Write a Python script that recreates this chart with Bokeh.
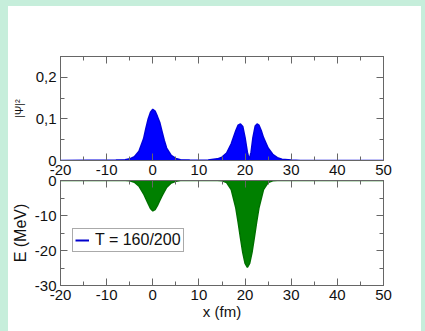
from bokeh.plotting import figure
from bokeh.layouts import column
from bokeh.models import (Range1d, FixedTicker, LinearAxis, ColumnDataSource,
                          Legend, LegendItem, CustomLabelingPolicy)
from bokeh.embed import file_html
from bokeh.resources import INLINE

# ---- data ----
psi_x = [-20, -8, -6, -5, -4, -3, -2, -1.5, -1, -0.5, 0, 0.5, 1, 1.5, 2, 2.5, 3, 4, 5, 6, 8,
         10, 12, 14, 15, 16, 17, 18, 18.5, 19, 19.5, 20, 20.5, 20.9, 21.3, 21.7, 22.2,
         22.6, 23, 23.5, 24, 25, 26, 27, 28, 30, 32, 50]
psi2 = [0, 0.001, 0.002, 0.004, 0.009, 0.022, 0.052, 0.077, 0.100, 0.116, 0.123, 0.119,
        0.106, 0.092, 0.070, 0.048, 0.030, 0.012, 0.005, 0.002, 0.001,
        0.0005, 0.001, 0.004, 0.008, 0.018, 0.040, 0.072, 0.085, 0.088, 0.082, 0.055,
        0.020, 0.002, 0.020, 0.055, 0.083, 0.088, 0.085, 0.072, 0.055, 0.030, 0.015,
        0.007, 0.003, 0.001, 0.0, 0.0]

V_x = [-20, -6, -5, -4, -3, -2, -1.5, -1, -0.5, 0, 0.5, 1, 1.5, 2, 3, 4, 5, 6,
       14, 15, 16, 17, 18, 18.5, 19, 19.5, 20, 20.5, 21, 21.5, 22, 22.5, 23, 24,
       25, 26, 27, 50]
V = [0, 0, -0.1, -0.5, -1.6, -3.8, -5.2, -6.6, -8.0, -8.7, -8.3, -7.2, -5.8, -4.4,
     -2.0, -0.7, -0.2, 0, 0, -0.1, -0.6, -2.6, -7.9, -12.0, -16.4, -20.6, -23.7,
     -24.8, -23.7, -20.6, -16.4, -12.0, -7.9, -2.6, -0.6, -0.1, 0, 0]

x_ticks = [-20, -10, 0, 10, 20, 30, 40, 50]
x_tick_labels = ["-20", "-10", "0", "10", "20", "30", "40", "50"]
x_minor = [-15, -5, 5, 15, 25, 35, 45]
psi_ticks = [0, 0.1, 0.2]
psi_tick_labels = ["0", "0,1", "0,2"]
psi_minor = [0.05, 0.15, 0.25]
E_ticks = [-30, -20, -10, 0]
E_tick_labels = ["-30", "-20", "-10", "0"]
E_minor = [-25, -15, -5]
legend_label = "T = 160/200"

FONT = "Liberation Sans"
AX = "#666666"
MINT = "#c6eedb"
TICK_FS = "15px"


def style_axis(ax, show_labels):
    ax.major_tick_in = 7
    ax.major_tick_out = 0
    ax.minor_tick_in = 4
    ax.minor_tick_out = 0
    ax.axis_line_color = AX
    ax.major_tick_line_color = AX
    ax.minor_tick_line_color = AX
    ax.major_label_text_font = FONT
    ax.axis_label_text_font = FONT
    ax.axis_label_text_font_style = "normal"
    ax.axis_label_text_color = "#111111"
    ax.major_label_text_color = "#111111"
    if show_labels:
        ax.major_label_text_font_size = TICK_FS
    else:
        ax.major_label_text_font_size = "0px"
        ax.major_label_standoff = 0
        ax.major_label_policy = CustomLabelingPolicy(code="return []")


def make_fig(h, top, bottom):
    p = figure(width=413, height=h, output_backend="svg", toolbar_location=None,
               x_axis_location=None, y_axis_location=None,
               min_border_left=49, min_border_right=38,
               min_border_top=top, min_border_bottom=bottom)
    p.x_range = Range1d(-20, 50)
    p.xgrid.visible = False
    p.ygrid.visible = False
    p.outline_line_color = AX
    p.background_fill_color = "white"
    p.border_fill_color = None
    return p


xt = FixedTicker(ticks=x_ticks, minor_ticks=x_minor)
x_over = dict(zip(x_ticks, x_tick_labels))

# ---- upper panel ----
p1 = make_fig(178, 50, 24)
p1.y_range = Range1d(0, 0.25)
p1.varea(x=psi_x, y1=0, y2=psi2, fill_color="#0000ff")
p1.line(x=psi_x, y=psi2, line_color="#0000dd", line_width=1.5)

yt1 = FixedTicker(ticks=psi_ticks, minor_ticks=psi_minor)
l1 = LinearAxis(ticker=yt1, axis_label="|Ψ|²")
style_axis(l1, True)
l1.major_label_overrides = dict(zip(psi_ticks, psi_tick_labels))
l1.major_label_standoff = 4
l1.axis_label_text_font_size = "11px"
l1.axis_label_standoff = 8
p1.add_layout(l1, "left")
r1 = LinearAxis(ticker=yt1)
style_axis(r1, False)
p1.add_layout(r1, "right")
b1 = LinearAxis(ticker=xt)
style_axis(b1, True)
b1.major_label_overrides = x_over
b1.major_label_standoff = 4
p1.add_layout(b1, "below")
a1 = LinearAxis(ticker=xt)
style_axis(a1, False)
p1.add_layout(a1, "above")

# ---- lower panel ----
p2 = make_fig(161, 10, 46)
p2.y_range = Range1d(-30, 0)
p2.varea(x=V_x, y1=V, y2=0, fill_color="#008000")
p2.line(x=V_x, y=V, line_color="#007000", line_width=1.5)
dummy = p2.line(x="x", y="y",
                source=ColumnDataSource(data=dict(x=[float("nan")], y=[float("nan")])),
                line_color="#0000cc", line_width=2)

yt2 = FixedTicker(ticks=E_ticks, minor_ticks=E_minor)
l2 = LinearAxis(ticker=yt2, axis_label="E (MeV)")
style_axis(l2, True)
l2.major_label_overrides = dict(zip(E_ticks, E_tick_labels))
l2.major_label_standoff = 4
l2.axis_label_text_font_size = "16px"
l2.axis_label_standoff = 3
p2.add_layout(l2, "left")
r2 = LinearAxis(ticker=yt2)
style_axis(r2, False)
p2.add_layout(r2, "right")
b2 = LinearAxis(ticker=xt, axis_label="x (fm)")
style_axis(b2, True)
b2.major_label_overrides = x_over
b2.major_label_standoff = 4
b2.axis_label_text_font_size = "15px"
b2.axis_label_standoff = 0
p2.add_layout(b2, "below")
a2 = LinearAxis(ticker=xt)
style_axis(a2, False)
p2.add_layout(a2, "above")

legend = Legend(items=[LegendItem(label=legend_label, renderers=[dummy])],
                location=(12, 33))
legend.label_text_font = FONT
legend.label_text_font_size = "16px"
legend.label_text_color = "#111111"
legend.glyph_width = 14
legend.glyph_height = 12
legend.label_height = 12
legend.label_standoff = 6
legend.padding = 2
legend.margin = 0
legend.border_line_color = "#555555"
legend.border_line_width = 1
p2.add_layout(legend, "center")

p1.margin = (0, 0, 0, 0)
p2.margin = (-14, 0, 0, 0)
inner = column(p1, p2, spacing=0, margin=(6, 4, 0, 8),
               styles={"background-color": "white"})
layout = column(inner, spacing=0, styles={"background-color": MINT})

open("out.html", "w").write(file_html(layout, INLINE))
